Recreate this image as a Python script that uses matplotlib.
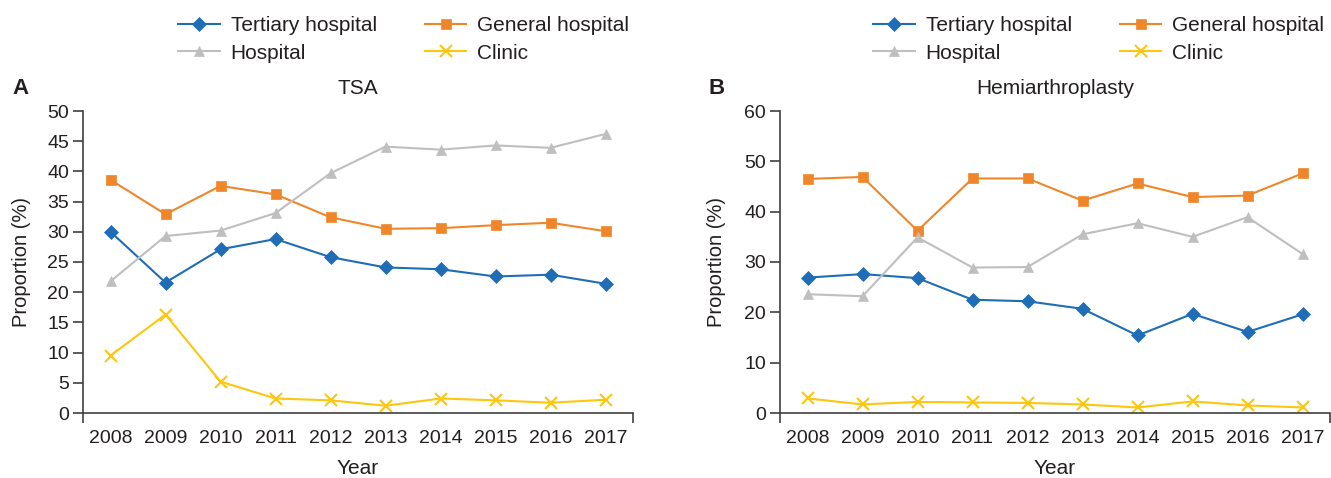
import matplotlib
matplotlib.use("Agg")
import matplotlib.pyplot as plt

plt.rcParams['font.family'] = ['Liberation Sans', 'DejaVu Sans']

years = ['2008', '2009', '2010', '2011', '2012', '2013', '2014', '2015', '2016', '2017']

tsa_tertiary = [30.0, 21.6, 27.1, 28.8, 25.8, 24.1, 23.8, 22.6, 22.9, 21.4]
tsa_general = [38.6, 32.9, 37.6, 36.2, 32.4, 30.5, 30.6, 31.1, 31.5, 30.1]
tsa_hospital = [21.8, 29.3, 30.2, 33.1, 39.7, 44.1, 43.6, 44.3, 43.9, 46.2]
tsa_clinic = [9.5, 16.3, 5.2, 2.4, 2.1, 1.2, 2.4, 2.1, 1.7, 2.2]

hemi_tertiary = [26.9, 27.6, 26.8, 22.5, 22.2, 20.7, 15.4, 19.7, 16.1, 19.6]
hemi_general = [46.5, 46.9, 36.2, 46.6, 46.6, 42.2, 45.6, 42.9, 43.2, 47.6]
hemi_hospital = [23.6, 23.2, 34.9, 28.9, 29.0, 35.5, 37.7, 35.0, 38.9, 31.6]
hemi_clinic = [2.9, 1.7, 2.2, 2.1, 2.0, 1.7, 1.1, 2.3, 1.5, 1.1]

series_names = ['Tertiary hospital', 'General hospital', 'Hospital', 'Clinic']
colors = ['#1f6db6', '#f0862a', '#bfbfbf', '#fdc60f']
markers = ['D', 's', '^', 'x']
msizes = [7, 7, 7.5, 9]

W, H = 1331, 478
fig = plt.figure(figsize=(W / 100, H / 100), dpi=100)

FS_TICK = 14
FS = 15
axcol = '#404040'
txtcol = '#231f20'

panels = [
    dict(left=83, data=[tsa_tertiary, tsa_general, tsa_hospital, tsa_clinic],
         ylim=(0, 50), yticks=list(range(0, 51, 5)), title='TSA', letter='A',
         letter_x=12, ylab_x=22, leg_x=178),
    dict(left=780, data=[hemi_tertiary, hemi_general, hemi_hospital, hemi_clinic],
         ylim=(0, 60), yticks=list(range(0, 61, 10)), title='Hemiarthroplasty', letter='B',
         letter_x=708, ylab_x=717, leg_x=873),
]

axw = 550
top_px, bot_px = 111, 413

for p in panels:
    ax = fig.add_axes([p['left'] / W, 1 - bot_px / H, axw / W, (bot_px - top_px) / H])
    x = list(range(len(years)))
    handles = []
    for vals, name, c, m, ms in zip(p['data'], series_names, colors, markers, msizes):
        mew = 1.5 if m == 'x' else 0.5
        h, = ax.plot(x, vals, color=c, marker=m, markersize=ms, linewidth=1.5,
                     markeredgecolor=c, markerfacecolor=c, markeredgewidth=mew,
                     label=name, clip_on=False)
        handles.append(h)
    ax.set_xlim(-0.5, len(years) - 0.5)
    ax.set_ylim(*p['ylim'])
    ax.set_yticks(p['yticks'])
    ax.set_xticks(x)
    ax.set_xticklabels(years)
    ax.tick_params(axis='x', length=0, pad=12, labelsize=FS_TICK, colors=txtcol)
    ax.set_xticks([-0.5, len(years) - 0.5], minor=True)
    ax.tick_params(axis='x', which='minor', length=7, width=1.2, color=axcol, direction='out')
    ax.tick_params(axis='y', length=7, width=1.2, color=axcol, direction='out',
                   labelsize=FS_TICK, labelcolor=txtcol, pad=3)
    for s in ['top', 'right']:
        ax.spines[s].set_visible(False)
    for s in ['left', 'bottom']:
        ax.spines[s].set_color(axcol)
        ax.spines[s].set_linewidth(1.2)
    ax.set_xlabel('Year', fontsize=FS, color=txtcol, labelpad=9)
    fig.text(p['ylab_x'] / W, 1 - (top_px + bot_px) / 2 / H, 'Proportion (%)', rotation=90,
             ha='center', va='center', fontsize=14.5, color=txtcol)
    ax.set_title(p['title'], fontsize=FS, color=txtcol, pad=12)
    fig.text(p['letter_x'] / W, 1 - 88 / H, p['letter'], fontsize=16, fontweight='bold',
             ha='left', va='center', color=txtcol)
    order = [0, 2, 1, 3]
    leg = fig.legend([handles[i] for i in order], [series_names[i] for i in order],
                     loc='upper left', bbox_to_anchor=(p['leg_x'] / W, 1 - 16 / H),
                     ncol=2, frameon=False, fontsize=FS, handlelength=2.0,
                     handletextpad=0.53, columnspacing=2.3, labelspacing=0.42,
                     borderpad=0, borderaxespad=0)
    for t in leg.get_texts():
        t.set_color(txtcol)

fig.savefig('out.png', dpi=100)
